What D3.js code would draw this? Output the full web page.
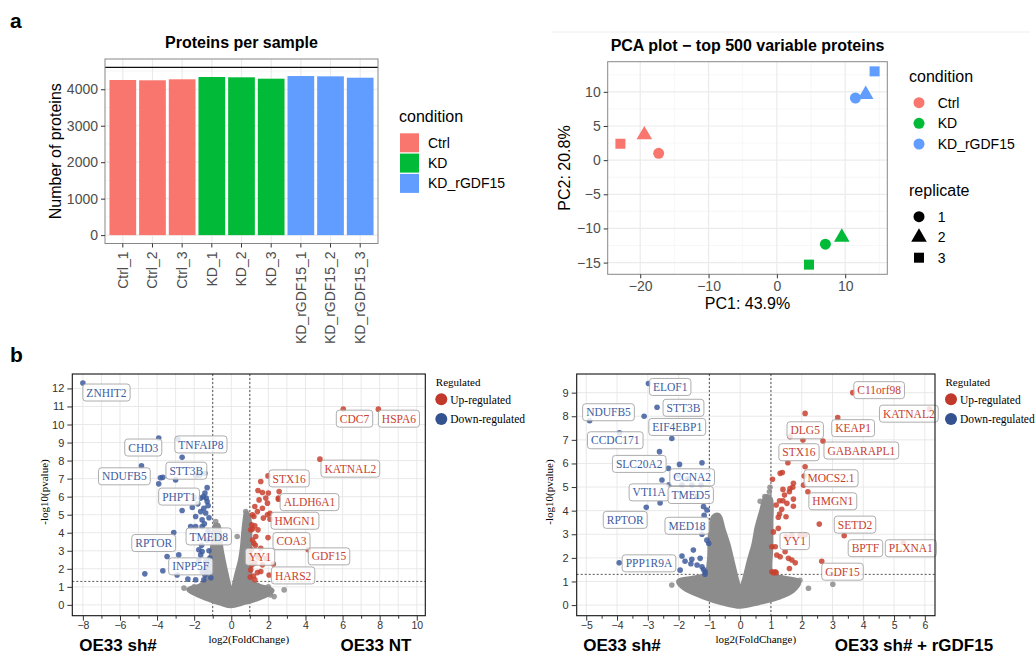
<!DOCTYPE html>
<html>
<head>
<meta charset="utf-8">
<script src="https://cdn.jsdelivr.net/npm/d3@7"></script>
<style>
  body { margin: 0; background: #fff; }
  svg { display: block; }
</style>
</head>
<body>
<svg id="fig" width="1035" height="655"></svg>
<script>
// ---- panel a: proteins per sample ----
const samples = ['Ctrl_1', 'Ctrl_2', 'Ctrl_3', 'KD_1', 'KD_2', 'KD_3', 'KD_rGDF15_1', 'KD_rGDF15_2', 'KD_rGDF15_3'];
const sampleCondition = ['Ctrl', 'Ctrl', 'Ctrl', 'KD', 'KD', 'KD', 'KD_rGDF15', 'KD_rGDF15', 'KD_rGDF15'];
const proteinCounts = [4254, 4246, 4273, 4336, 4328, 4290, 4363, 4355, 4317];
const countRefLine = 4600;
const countTicks = [0, 1000, 2000, 3000, 4000];

const conditions = ['Ctrl', 'KD', 'KD_rGDF15'];
const conditionColors = ['#F8766D', '#00BA38', '#619CFF'];
const replicates = ['1', '2', '3'];

// ---- panel a: PCA ----
const pcaCondition = ['Ctrl', 'Ctrl', 'Ctrl', 'KD', 'KD', 'KD', 'KD_rGDF15', 'KD_rGDF15', 'KD_rGDF15'];
const pcaReplicate = ['1', '2', '3', '1', '2', '3', '1', '2', '3'];
const pc1 = [-17.3, -19.4, -22.9, 7.1, 9.5, 4.7, 11.5, 13.0, 14.3];
const pc2 = [1.0, 3.7, 2.4, -12.3, -11.3, -15.3, 9.1, 9.6, 13.0];
const pc1Ticks = [-20, -10, 0, 10];
const pc2Ticks = [-15, -10, -5, 0, 5, 10];

// ---- panel b left: OE33 sh# vs OE33 NT ----
const volcA_genes = [
  ['ZNHIT2', -8.0, 12.3, 'down'], ['CHD3', -3.91, 9.25, 'down'], ['TNFAIP8', -2.88, 9.2, 'down'],
  ['NDUFB5', -4.84, 7.71, 'down'], ['STT3B', -1.42, 7.3, 'down'], ['PHPT1', -1.65, 5.92, 'down'],
  ['RPTOR', -3.1, 4.01, 'down'], ['TMED8', -1.25, 4.1, 'down'], ['INPP5F', -1.38, 1.94, 'down'],
  ['CDC7', 6.04, 10.85, 'up'], ['HSPA6', 7.93, 10.85, 'up'], ['KATNAL2', 4.78, 8.08, 'up'],
  ['STX16', 1.98, 7.15, 'up'], ['ALDH6A1', 2.58, 6.28, 'up'], ['HMGN1', 2.09, 5.08, 'up'],
  ['COA3', 1.98, 3.73, 'up'], ['YY1', 1.35, 2.75, 'up'], ['GDF15', 4.15, 3.05, 'up'],
  ['HARS2', 2.27, 2.27, 'up']
];
const volcA_down = [
  [-3.82, 7.05], [-3.69, 7.07], [-3.0, 6.93], [-3.91, 6.71], [-2.65, 8.18], [-1.92, 7.15], [-1.69, 7.2],
  [-1.42, 6.2], [-1.35, 5.92], [-1.3, 5.73], [-1.48, 5.36], [-1.65, 5.17], [-1.38, 5.09], [-1.57, 4.71],
  [-2.65, 5.23], [-1.92, 4.9], [-2.0, 5.97], [-1.2, 4.83], [-2.19, 4.34], [-1.92, 4.34], [-1.57, 4.34],
  [-3.46, 2.68], [-2.83, 2.77], [-3.69, 1.89], [-4.66, 1.72], [-1.57, 2.96], [-1.75, 3.05], [-2.92, 1.66],
  [-2.34, 1.43], [-1.92, 1.39], [-1.48, 1.39], [-1.42, 1.66], [-1.31, 2.16], [-1.75, 2.44], [-1.65, 2.77],
  [-1.38, 2.4], [-1.57, 1.85], [-1.25, 5.5], [-1.45, 4.5], [-1.3, 3.6], [-1.6, 3.3], [-1.2, 3.0],
  [-1.15, 2.6], [-1.1, 1.5], [-1.2, 1.8], [-2.1, 5.4], [-1.8, 5.6], [-1.5, 6.0], [-1.3, 6.5]
];
const volcA_up = [
  [2.54, 5.92], [1.59, 6.84], [1.44, 6.34], [1.68, 6.23], [2.0, 6.2], [2.54, 5.86], [1.86, 5.92],
  [1.5, 5.82], [1.95, 5.64], [1.27, 5.45], [1.68, 5.36], [1.41, 5.17], [1.14, 4.99], [1.95, 4.99],
  [1.73, 4.81], [2.09, 4.75], [1.27, 4.38], [1.14, 4.2], [1.44, 4.16], [1.32, 3.79], [1.22, 3.42],
  [1.59, 3.14], [1.08, 3.05], [1.27, 2.31], [1.68, 2.22], [1.05, 1.94], [1.41, 1.79], [2.04, 1.66],
  [1.02, 1.54], [1.27, 1.39], [1.59, 1.85], [1.86, 2.59], [1.05, 2.59], [1.1, 4.44], [1.05, 4.16],
  [1.22, 4.9], [1.15, 3.6], [1.3, 3.3], [1.1, 2.2], [1.2, 1.6], [1.45, 2.6]
];
const volcA_grey = [
  [-2.55, 0.93], [-0.84, 4.62], [0.78, 5.17], [0.32, 3.79], [2.85, 0.83], [2.31, 0.46], [2.1, 0.55],
  [-0.75, 4.4], [-2.0, 1.0], [-1.7, 0.9], [1.7, 0.9], [2.0, 1.0], [-0.95, 4.0], [0.9, 4.9],
  [-1.1, 1.2], [1.2, 1.0]
];
// outline of the dense cloud of non-significant proteins
const volcA_core = [
  [0, -0.05], [-0.6, 0.1], [-1.2, 0.3], [-1.9, 0.6], [-2.3, 0.85], [-1.7, 1.05], [-1.4, 1.3],
  [-1.25, 1.9], [-1.1, 2.6], [-1.0, 3.3], [-0.95, 3.9], [-0.85, 4.4], [-0.72, 4.4], [-0.62, 3.8],
  [-0.55, 3.1], [-0.4, 2.3], [-0.25, 1.6], [-0.1, 0.9], [0, 0.35], [0.12, 0.9], [0.3, 1.7],
  [0.5, 2.5], [0.6, 3.2], [0.65, 3.8], [0.72, 4.5], [0.82, 5.1], [0.95, 4.8], [1.0, 4.0],
  [1.0, 3.0], [1.0, 2.0], [1.05, 1.3], [1.5, 1.05], [2.2, 0.8], [1.9, 0.55], [1.3, 0.3], [0.6, 0.1]
];

// ---- panel b right: OE33 sh# vs OE33 sh# + rGDF15 ----
const volcB_genes = [
  ['ELOF1', -2.98, 9.39, 'down'], ['STT3B', -2.70, 8.38, 'down'], ['NDUFB5', -4.89, 7.81, 'down'],
  ['EIF4EBP1', -2.22, 7.06, 'down'], ['CCDC171', -3.92, 7.3, 'down'], ['SLC20A2', -2.33, 5.79, 'down'],
  ['CCNA2', -1.70, 5.35, 'down'], ['VTI1A', -2.60, 4.33, 'down'], ['TMED5', -1.40, 4.6, 'down'],
  ['RPTOR', -3.05, 4.14, 'down'], ['MED18', -1.24, 3.0, 'down'], ['PPP1R9A', -3.93, 1.79, 'down'],
  ['C11orf98', 3.66, 9.0, 'up'], ['KATNAL2', 6.15, 8.3, 'up'], ['KEAP1', 3.17, 7.94, 'up'],
  ['DLG5', 1.62, 7.13, 'up'], ['GABARAPL1', 2.69, 6.95, 'up'], ['STX16', 1.55, 6.03, 'up'],
  ['MOCS2.1', 2.11, 5.86, 'up'], ['HMGN1', 2.20, 4.8, 'up'], ['SETD2', 2.57, 3.43, 'up'],
  ['BPTF', 3.38, 2.94, 'up'], ['PLXNA1', 5.30, 2.64, 'up'], ['YY1', 1.49, 2.9, 'up'],
  ['GDF15', 2.65, 1.86, 'up']
];
const volcB_down = [
  [-3.12, 8.0], [-2.62, 6.5], [-1.97, 5.96], [-1.24, 6.03], [-2.54, 5.3], [-1.89, 5.08], [-1.57, 5.08],
  [-1.27, 5.08], [-1.19, 4.17], [-1.08, 4.03], [-1.02, 2.61], [-1.89, 2.08], [-1.79, 1.86], [-1.57, 1.94],
  [-1.30, 1.98], [-1.52, 2.33], [-1.95, 1.48], [-1.19, 1.51], [-1.14, 1.31], [-1.24, 3.25], [-1.08, 2.75],
  [-1.24, 1.62], [-1.14, 1.41], [-1.6, 1.75], [-1.40, 1.7], [-2.01, 5.5], [-2.31, 5.1], [-1.17, 3.8]
];
const volcB_up = [
  [2.11, 8.12], [2.04, 6.99], [1.37, 5.62], [1.30, 5.58], [1.05, 5.33], [2.08, 5.47], [2.06, 5.08],
  [1.73, 5.16], [1.62, 4.94], [1.39, 4.9], [1.44, 4.66], [1.73, 4.49], [1.28, 4.42], [1.39, 4.42],
  [1.17, 4.24], [1.73, 4.19], [1.35, 4.06], [1.28, 3.86], [1.49, 3.74], [1.71, 4.99], [1.60, 4.8],
  [1.52, 4.31], [1.24, 3.72], [1.24, 3.25], [1.08, 3.1], [1.03, 2.47], [1.14, 2.47], [1.46, 2.26],
  [1.57, 1.98], [1.68, 1.91], [1.79, 1.79], [1.60, 1.55], [1.03, 1.41], [1.14, 1.41], [1.30, 2.05],
  [1.19, 2.12], [1.08, 1.37], [1.17, 1.37], [1.68, 2.97], [1.95, 2.97], [2.11, 2.97]
];
const volcB_grey = [
  [3.01, 0.88], [2.22, 0.71], [1.84, 0.85], [-2.22, 0.85], [0.76, 4.1], [0.87, 4.03], [0.97, 4.99],
  [0.95, 4.8], [-0.81, 3.46], [-0.87, 3.7], [0.65, 4.4], [1.73, 1.0], [1.94, 1.05], [-1.42, 1.1],
  [-1.73, 0.9], [0.90, 3.5], [0.80, 4.6]
];
const volcB_core = [
  [0, -0.05], [-0.6, 0.1], [-1.2, 0.35], [-1.8, 0.7], [-2.0, 1.0], [-1.5, 1.15], [-1.1, 1.3],
  [-1.0, 1.9], [-0.98, 2.6], [-0.95, 3.3], [-0.85, 3.75], [-0.7, 3.8], [-0.55, 3.2], [-0.4, 2.6],
  [-0.25, 1.8], [-0.1, 1.0], [0, 0.6], [0.12, 1.0], [0.3, 1.9], [0.45, 2.6], [0.55, 3.3],
  [0.7, 4.0], [0.85, 4.6], [0.98, 4.5], [1.0, 3.5], [1.0, 2.5], [1.02, 1.3], [1.4, 1.15],
  [1.9, 1.0], [1.7, 0.6], [1.2, 0.3], [0.6, 0.1]
];

const regulated = ['Up-regulated', 'Down-regulated'];

// label box placement (top-left of box relative to its point, px)
const labelNudgeA = {
  ZNHIT2: [0, 1], CHD3: [-34, 1], TNFAIP8: [-3, -3], NDUFB5: [-43, 2], STT3B: [-39, -11],
  PHPT1: [-42, -10], RPTOR: [-42, 2], TMED8: [-22, -3], INPP5F: [-37, -12], CDC7: [-7, 1],
  HSPA6: [0, 1], KATNAL2: [1, 1], STX16: [1, -6], ALDH6A1: [1, 2], HMGN1: [1, -1],
  COA3: [5, -5], YY1: [-11, -7], GDF15: [0, -2], HARS2: [-2, 3]
};
const labelNudgeB = {
  ELOF1: [1, -5], STT3B: [6, -8], NDUFB5: [-7, -17], EIF4EBP1: [-23, -20], CCDC171: [-32, -1],
  SLC20A2: [-56, -13], CCNA2: [-18, -10], VTI1A: [-31, -19], TMED5: [-29, -10], RPTOR: [-43, 4],
  MED18: [-37, -17], PPP1R9A: [3, -8], C11orf98: [1, -11], KATNAL2: [-50, -4], KEAP1: [-6, 2],
  DLG5: [-3, -15], GABARAPL1: [1, 1], STX16: [-9, -19], 'MOCS2.1': [-1, 3], HMGN1: [1, 1],
  SETD2: [15, -8], BPTF: [4, 4], PLXNA1: [-18, -3], YY1: [-6, -4], GDF15: [0, 2]
};

const SANS = 'Liberation Sans, Arial, Helvetica, sans-serif';
const SERIF = 'Liberation Serif, Times New Roman, serif';
const RED = '#c8412f';
const BLUE = '#3e5c9e';
const GREY = '#8c8c8c';

const svg = d3.select('#fig');
const color = d3.scaleOrdinal().domain(conditions).range(conditionColors);

function text(g, x, y, str, size, opts = {}) {
  const t = g.append('text')
    .attr('x', x).attr('y', y)
    .attr('font-family', opts.family || SANS)
    .attr('font-size', size)
    .attr('fill', opts.fill || '#000')
    .attr('text-anchor', opts.anchor || 'start')
    .text(str);
  if (opts.bold) t.attr('font-weight', 'bold');
  if (opts.rotate) t.attr('transform', `rotate(-90, ${x}, ${y})`);
  return t;
}

function styleAxis(axisG, size, fill) {
  axisG.select('.domain').remove();
  axisG.selectAll('text').attr('font-family', SANS).attr('font-size', size).attr('fill', fill);
  axisG.selectAll('line').attr('stroke', '#333');
}

function drawBars() {
  const left = 105, right = 378, top = 59, bottom = 243.5;
  const g = svg.append('g');
  const x = d3.scaleBand().domain(samples).range([left, right]).paddingInner(0.1).paddingOuter(0.15);
  const pad = countRefLine * 0.05;
  const y = d3.scaleLinear().domain([-pad, countRefLine + pad]).range([bottom, top]);

  g.selectAll('.ymin').data(d3.range(500, 4600, 1000)).enter().append('line')
    .attr('x1', left).attr('x2', right).attr('y1', d => y(d)).attr('y2', d => y(d))
    .attr('stroke', '#f3f3f3').attr('stroke-width', 0.7);
  g.selectAll('.ymaj').data(countTicks).enter().append('line')
    .attr('x1', left).attr('x2', right).attr('y1', d => y(d)).attr('y2', d => y(d))
    .attr('stroke', '#ebebeb').attr('stroke-width', 1.2);
  g.selectAll('.xmaj').data(samples).enter().append('line')
    .attr('x1', d => x(d) + x.bandwidth() / 2).attr('x2', d => x(d) + x.bandwidth() / 2)
    .attr('y1', top).attr('y2', bottom)
    .attr('stroke', '#ebebeb').attr('stroke-width', 1.2);

  g.selectAll('.bar').data(samples).enter().append('rect')
    .attr('x', d => x(d)).attr('width', x.bandwidth())
    .attr('y', (d, i) => y(proteinCounts[i]))
    .attr('height', (d, i) => y(0) - y(proteinCounts[i]))
    .attr('fill', (d, i) => color(sampleCondition[i]));

  g.append('line').attr('x1', left).attr('x2', right)
    .attr('y1', y(countRefLine)).attr('y2', y(countRefLine))
    .attr('stroke', '#111').attr('stroke-width', 1.3);

  g.append('rect').attr('x', left).attr('y', top).attr('width', right - left).attr('height', bottom - top)
    .attr('fill', 'none').attr('stroke', '#888').attr('stroke-width', 1);

  const ax = g.append('g').attr('transform', `translate(${left},0)`)
    .call(d3.axisLeft(y).tickValues(countTicks).tickSize(4).tickPadding(3).tickFormat(d3.format('d')));
  styleAxis(ax, 14, '#4d4d4d');

  const bx = g.append('g').attr('transform', `translate(0,${bottom})`)
    .call(d3.axisBottom(x).tickSize(4).tickPadding(3));
  styleAxis(bx, 14, '#4d4d4d');
  bx.selectAll('text').attr('transform', 'rotate(-90)').attr('text-anchor', 'end')
    .attr('x', -8).attr('y', 0).attr('dy', '0.35em');

  text(g, (left + right) / 2, 48, 'Proteins per sample', 16, { bold: true, anchor: 'middle' });
  text(g, 61, (top + bottom) / 2, 'Number of proteins', 16, { anchor: 'middle', rotate: true });

  text(g, 399, 122, 'condition', 16);
  conditions.forEach((c, i) => {
    g.append('rect').attr('x', 400).attr('y', 133.3 + i * 20.3).attr('width', 19).attr('height', 19)
      .attr('fill', color(c));
    text(g, 428, 133.3 + i * 20.3 + 14.5, c, 14);
  });
}

function drawPca() {
  const left = 607.7, right = 887.3, top = 61.7, bottom = 274.3;
  const g = svg.append('g');
  const ex = d3.extent(pc1), ey = d3.extent(pc2);
  const px = (ex[1] - ex[0]) * 0.05, py = (ey[1] - ey[0]) * 0.05;
  const x = d3.scaleLinear().domain([ex[0] - px, ex[1] + px]).range([left, right]);
  const y = d3.scaleLinear().domain([ey[0] - py, ey[1] + py]).range([bottom, top]);
  const shape = d3.scaleOrdinal().domain(replicates).range([d3.symbolCircle, d3.symbolTriangle, d3.symbolSquare]);
  const shapeSize = d3.scaleOrdinal().domain(replicates).range([95, 105, 100]);

  svg.append('line').attr('x1', 552).attr('x2', 1030).attr('y1', 32).attr('y2', 32)
    .attr('stroke', '#eeeeee').attr('stroke-width', 1);

  const xMinor = [-25, -15, -5, 5, 15], yMinor = [-12.5, -7.5, -2.5, 2.5, 7.5, 12.5];
  g.selectAll('.xmin').data(xMinor.filter(v => x(v) > left && x(v) < right)).enter().append('line')
    .attr('x1', d => x(d)).attr('x2', d => x(d)).attr('y1', top).attr('y2', bottom)
    .attr('stroke', '#f3f3f3').attr('stroke-width', 0.7);
  g.selectAll('.ymin').data(yMinor.filter(v => y(v) > top && y(v) < bottom)).enter().append('line')
    .attr('x1', left).attr('x2', right).attr('y1', d => y(d)).attr('y2', d => y(d))
    .attr('stroke', '#f3f3f3').attr('stroke-width', 0.7);
  g.selectAll('.xmaj').data(pc1Ticks).enter().append('line')
    .attr('x1', d => x(d)).attr('x2', d => x(d)).attr('y1', top).attr('y2', bottom)
    .attr('stroke', '#ebebeb').attr('stroke-width', 1.2);
  g.selectAll('.ymaj').data(pc2Ticks).enter().append('line')
    .attr('x1', left).attr('x2', right).attr('y1', d => y(d)).attr('y2', d => y(d))
    .attr('stroke', '#ebebeb').attr('stroke-width', 1.2);

  g.selectAll('.pt').data(pc1).enter().append('path')
    .attr('transform', (d, i) => `translate(${x(d)},${y(pc2[i])})`)
    .attr('d', (d, i) => d3.symbol().type(shape(pcaReplicate[i])).size(shapeSize(pcaReplicate[i]))())
    .attr('fill', (d, i) => color(pcaCondition[i]));

  g.append('rect').attr('x', left).attr('y', top).attr('width', right - left).attr('height', bottom - top)
    .attr('fill', 'none').attr('stroke', '#888').attr('stroke-width', 1);

  const ax = g.append('g').attr('transform', `translate(${left},0)`)
    .call(d3.axisLeft(y).tickValues(pc2Ticks).tickSize(4).tickPadding(3));
  styleAxis(ax, 14, '#4d4d4d');
  const bx = g.append('g').attr('transform', `translate(0,${bottom})`)
    .call(d3.axisBottom(x).tickValues(pc1Ticks).tickSize(4).tickPadding(3));
  styleAxis(bx, 14, '#4d4d4d');

  text(g, (left + right) / 2, 50.7, 'PCA plot \u2212 top 500 variable proteins', 16, { bold: true, anchor: 'middle' });
  text(g, (left + right) / 2, 309, 'PC1: 43.9%', 16, { anchor: 'middle' });
  text(g, 570, (top + bottom) / 2, 'PC2: 20.8%', 16, { anchor: 'middle', rotate: true });

  text(g, 909, 81.7, 'condition', 16);
  conditions.forEach((c, i) => {
    const cy = 102.7 + i * 20.65;
    g.append('path').attr('transform', `translate(919,${cy})`)
      .attr('d', d3.symbol().type(d3.symbolCircle).size(95)()).attr('fill', color(c));
    text(g, 937.7, cy + 5, c, 14);
  });
  text(g, 909, 195.7, 'replicate', 16);
  replicates.forEach((r, i) => {
    const cy = 216.7 + i * 20.5;
    g.append('path').attr('transform', `translate(919,${cy})`)
      .attr('d', d3.symbol().type(shape(r)).size(shapeSize(r))()).attr('fill', '#000');
    text(g, 937.7, cy + 5, r, 14);
  });
}

function drawVolcano(cfg) {
  const [xl, xr] = cfg.xRange, [yb, yt] = cfg.yRange;
  const g = svg.append('g');
  const x = d3.scaleLinear().domain(cfg.xDomain).range(cfg.xRange);
  const y = d3.scaleLinear().domain(cfg.yDomain).range(cfg.yRange);

  const gx = d3.range(Math.ceil(cfg.xDomain[0]), Math.floor(cfg.xDomain[1]) + 1);
  const gy = d3.range(Math.ceil(cfg.yDomain[0]), Math.floor(cfg.yDomain[1]) + 1);
  g.selectAll('.gx').data(gx).enter().append('line')
    .attr('x1', d => x(d)).attr('x2', d => x(d)).attr('y1', yt).attr('y2', yb)
    .attr('stroke', '#e6e6e6').attr('stroke-width', 0.9);
  g.selectAll('.gy').data(gy).enter().append('line')
    .attr('x1', xl).attr('x2', xr).attr('y1', d => y(d)).attr('y2', d => y(d))
    .attr('stroke', '#e6e6e6').attr('stroke-width', 0.9);

  const pCut = -Math.log10(0.05);
  [-1, 1].forEach(v => {
    g.append('line').attr('x1', x(v)).attr('x2', x(v)).attr('y1', yt).attr('y2', yb)
      .attr('stroke', '#555').attr('stroke-width', 1).attr('stroke-dasharray', '2,2');
  });
  g.append('line').attr('x1', xl).attr('x2', xr).attr('y1', y(pCut)).attr('y2', y(pCut))
    .attr('stroke', '#555').attr('stroke-width', 1).attr('stroke-dasharray', '2,2');

  const line = d3.line().x(d => x(d[0])).y(d => y(d[1])).curve(d3.curveCatmullRomClosed.alpha(0.5));
  g.append('path').datum(cfg.core).attr('d', line)
    .attr('fill', GREY).attr('stroke', GREY).attr('stroke-width', 5).attr('stroke-linejoin', 'round');

  const dots = (data, fill) => g.append('g').selectAll('circle').data(data).enter().append('circle')
    .attr('cx', d => x(d[0])).attr('cy', d => y(d[1])).attr('r', 2.8)
    .attr('fill', fill).attr('fill-opacity', 0.85);
  dots(cfg.grey, GREY);
  dots(cfg.down, BLUE);
  dots(cfg.up, RED);
  dots(cfg.genes.map(d => [d[1], d[2]]), null).attr('fill', (d, i) => cfg.genes[i][3] === 'up' ? RED : BLUE);

  cfg.genes.forEach(([name, gxv, gyv, dir]) => {
    const [dx, dy] = cfg.nudge[name] || [2, 2];
    const bx = x(gxv) + dx, by = y(gyv) + dy;
    const lab = g.append('g');
    const r = lab.append('rect').attr('x', bx).attr('y', by).attr('height', 17).attr('rx', 3)
      .attr('fill', '#fff').attr('fill-opacity', 0.82).attr('stroke', '#a5a5a5').attr('stroke-width', 0.9);
    const t = text(lab, bx + 3.5, by + 12.6, name, 11.5, { family: SERIF, fill: dir === 'up' ? RED : BLUE });
    r.attr('width', t.node().getComputedTextLength() + 7);
  });

  g.append('rect').attr('x', xl).attr('y', yt).attr('width', xr - xl).attr('height', yb - yt)
    .attr('fill', 'none').attr('stroke', '#111').attr('stroke-width', 1.1);

  const bxAx = g.append('g').attr('transform', `translate(0,${yb})`)
    .call(d3.axisBottom(x).tickValues(cfg.xTicks).tickSize(5).tickPadding(1));
  styleAxis(bxAx, 10.5, '#333');
  g.append('g').attr('transform', `translate(0,${yb})`)
    .call(d3.axisBottom(x).tickValues(cfg.xMinor).tickSize(3).tickFormat(''))
    .call(a => a.select('.domain').remove())
    .selectAll('line').attr('stroke', '#333');
  const lAx = g.append('g').attr('transform', `translate(${xl},0)`)
    .call(d3.axisLeft(y).tickValues(gy.filter(v => v >= 0)).tickSize(5).tickPadding(3));
  styleAxis(lAx, 11, '#333');

  text(g, (xl + xr) / 2, 642.5, 'log2(FoldChange)', 11, { family: SERIF, anchor: 'middle' });
  text(g, xl - 24, 492, '-log10(pvalue)', 11, { family: SERIF, anchor: 'middle', rotate: true });

  text(g, xr + 10.5, 386, 'Regulated', 11, { family: SERIF });
  regulated.forEach((lbl, i) => {
    g.append('circle').attr('cx', xr + 16).attr('cy', 399.3 + i * 19.7).attr('r', 6)
      .attr('fill', i === 0 ? '#c0392b' : '#34528f');
    text(g, xr + 25, 403.5 + i * 19.7, lbl, 11.5, { family: SERIF });
  });

  text(g, cfg.leftTitle[0], 651, cfg.leftTitle[1], 17, { bold: true, anchor: 'middle' });
  text(g, cfg.rightTitle[0], 651, cfg.rightTitle[1], 17, { bold: true, anchor: 'middle' });
}

text(svg, 10, 28, 'a', 21, { bold: true });
text(svg, 10, 362, 'b', 21, { bold: true });

drawBars();
drawPca();

drawVolcano({
  xDomain: [-8.57, 10.46], xRange: [72.3, 425.3],
  yDomain: [-0.6, 12.8], yRange: [615.7, 374],
  xTicks: d3.range(-8, 11, 2), xMinor: d3.range(-7, 10, 2),
  core: volcA_core, grey: volcA_grey, up: volcA_up, down: volcA_down,
  genes: volcA_genes, nudge: labelNudgeA,
  leftTitle: [118, 'OE33 sh#'], rightTitle: [376, 'OE33 NT']
});
drawVolcano({
  xDomain: [-5.31, 6.33], xRange: [576.7, 935],
  yDomain: [-0.45, 9.79], yRange: [615.7, 374],
  xTicks: d3.range(-5, 7, 1), xMinor: d3.range(-4.5, 6.5, 1),
  core: volcB_core, grey: volcB_grey, up: volcB_up, down: volcB_down,
  genes: volcB_genes, nudge: labelNudgeB,
  leftTitle: [622, 'OE33 sh#'], rightTitle: [914, 'OE33 sh# + rGDF15']
});
</script>
</body>
</html>
